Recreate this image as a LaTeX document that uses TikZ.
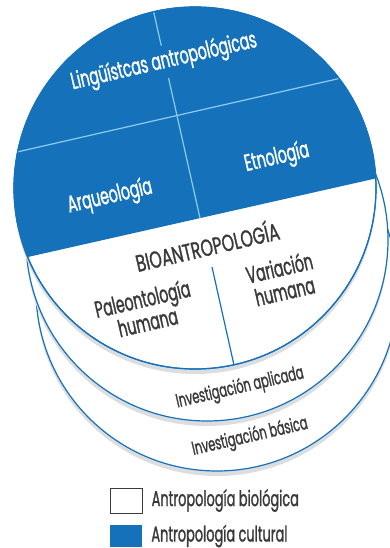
\documentclass[tikz,border=0pt]{standalone}
\usepackage{fontspec}
\setmainfont{Poppins}[FakeStretch=0.60,FakeBold=1.2]
\newfontfamily\mayus{Poppins}[FakeStretch=0.675,FakeBold=1.2]
\usetikzlibrary{positioning}
\definecolor{azul}{HTML}{1572BA}
\definecolor{celeste}{HTML}{8DCBF0}
\definecolor{sombra}{HTML}{DCDDDF}
\definecolor{texto}{HTML}{3A3A3A}
\begin{document}
\begin{tikzpicture}[x=1pt,y=-1pt,
  disco/.style={draw=azul,line width=1.2pt,fill=white},
  etiq/.style={rotate=13,align=center,inner sep=1pt,font=\fontsize{23.5}{24}\selectfont},
  blanca/.style={etiq,text=white},
  gris/.style={etiq,text=texto},
  chica/.style={gris,font=\fontsize{19}{20}\selectfont},
  caja/.style={minimum width=32pt,minimum height=25pt,inner sep=0pt}]
\useasboundingbox (0,0) rectangle (390,548);
% discos de abajo
\fill[sombra] (217,295) circle (181);
\draw[disco] (217,290) circle (181);
\fill[sombra] (207,245) circle (181);
\draw[disco] (207,240) circle (181);
\fill[sombra] (195,193) circle (181);
\draw[disco] (195,188) circle (181);
% parte cultural
\begin{scope}
\clip (195,188) circle (181);
\fill[azul] (0,0) -- (390,0) -- (390,175.2) -- (0,263.3) -- cycle;
\draw[celeste,line width=1.2pt] (0,155.9) -- (390,66.9);
\draw[celeste,line width=1.2pt] (151,0) -- (200,218);
\draw[azul,line width=1.2pt] (212,267) -- (236,374);
\end{scope}
\draw[azul,line width=1.2pt] (195,188) circle (181);
\node[blanca,fill=azul,inner sep=4pt] (lingu) at (164,62) {Lingüístcas antropológicas};
\node[blanca] (arqueo) at (110,197) {Arqueología};
\node[blanca] (etno) at (277,158) {Etnología};
% parte biologica
\node[gris,font=\fontsize{23.5}{24}\mayus] (bio) at (207,245) {BIOANTROPOLOGÍA};
\node[gris] (variacion) at (282,279) {Variación\\humana};
\node[gris] (paleo) at (145,310) {Paleontología\\humana};
\node[chica] (aplicada) at (240,388) {Investigación aplicada};
\node[chica] (basica) at (250,437) {Investigación básica};
% leyenda
\node[caja,draw=texto,line width=1pt,fill=white] (cajaBio) at (126,500.5) {};
\node[caja,fill=azul,minimum height=22pt] (cajaCult) at (126,536) {};
\node[right=9pt of cajaBio,inner sep=0pt,text=texto,font=\fontsize{21.5}{22}\selectfont] (leyBio) {Antropología biológica};
\node[right=9pt of cajaCult,inner sep=0pt,text=texto,font=\fontsize{21.5}{22}\selectfont] (leyCult) {Antropología cultural};
\end{tikzpicture}
\end{document}
